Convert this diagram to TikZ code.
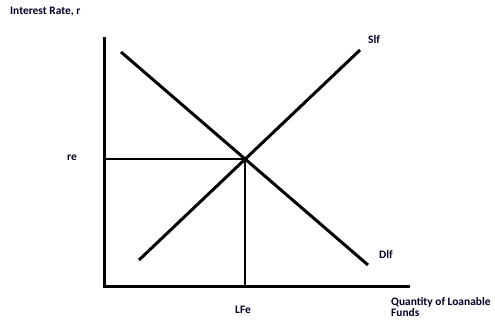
\documentclass[tikz,border=0pt]{standalone}
\usepackage{fontspec}
\setmainfont{Carlito}
\usetikzlibrary{intersections}

\begin{document}
\begin{tikzpicture}[
  x=1pt, y=1pt,
  every node/.style={font=\bfseries\fontsize{11.4}{11}\selectfont, inner sep=0pt, text=black!85!blue},
  axis/.style={line width=3pt},
  curve/.style={line width=3pt},
  guide/.style={line width=2.6pt}
]
\useasboundingbox (0,0) rectangle (495,324);

% Axes
\coordinate (orig) at (104,38);
\coordinate (ytop) at (104,287);
\coordinate (xend) at (410,38);
\draw[axis] (ytop) -- (orig) -- (xend);

% Demand and supply of loanable funds
\coordinate (dA) at (121,272);
\coordinate (dB) at (368,59);
\coordinate (sA) at (139,64);
\coordinate (sB) at (360,274);
\draw[curve, name path=dlf] (dA) -- (dB);
\draw[curve, name path=slf] (sA) -- (sB);

% Equilibrium
\path[name intersections={of=dlf and slf, by=eq}];
\coordinate (eqY) at (orig |- eq);
\coordinate (eqX) at (eq |- orig);
\draw[guide] (eqY) -- (eq) -- (eqX);

% Labels
\node[anchor=base west] (ylab) at (10,309) {Interest Rate, r};
\node[anchor=base west] (slab) at (368,280) {Slf};
\node[anchor=base west] (dlab) at (379,65) {Dlf};
\node[anchor=base west] (relab) at (67,163) {re};
\node[anchor=base] (lfelab) at (243,11) {LFe};
\node[anchor=base west, align=left] (xlab) at (391,8) {Quantity of Loanable\\Funds};
\end{tikzpicture}
\end{document}
